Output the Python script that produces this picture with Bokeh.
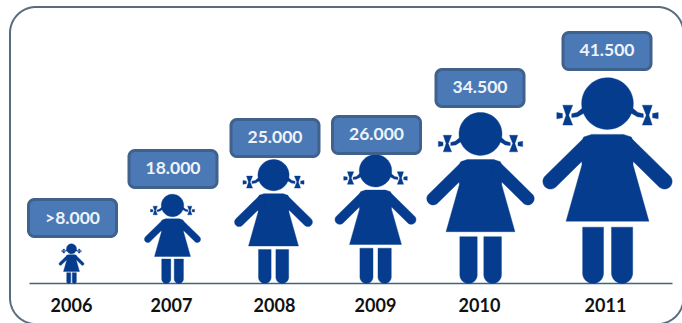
import numpy as np
from bokeh.embed import file_html
from bokeh.models import ColumnDataSource, Range1d
from bokeh.plotting import figure
from bokeh.resources import INLINE
from bokeh.core.properties import value

# Chart values
years = ["2006", "2007", "2008", "2009", "2010", "2011"]
counts = [8000, 18000, 25000, 26000, 34500, 41500]
count_labels = [">8.000", "18.000", "25.000", "26.000", "34.500", "41.500"]

# Page layout, in pixels from the top-left corner
WIDTH, HEIGHT = 682, 323
BASE_PX = 283
UNITS_PER_PX = 202
centres = [71, 172, 273, 375, 480, 607]
label_centres = [71, 171, 274, 375, 479, 605]
box_centres = [72, 172.5, 274.5, 376, 479.5, 606.5]
box_bottoms = [236, 187, 156, 153, 106, 69]
BOX_W, BOX_H = 88, 37

BLUE = "#053c8e"
BOX_FILL = "#4b79b6"
BOX_LINE = "#3f618c"
FRAME = "#5a6d7f"
RULE = "#3e6676"


def y_of(px):
    """Vertical pixel position expressed on the count axis."""
    return (BASE_PX - np.asarray(px, dtype=float)) * UNITS_PER_PX


def arc(cx, cy, r, a0, a1, n=24):
    t = np.radians(np.linspace(a0, a1, n))
    return cx + r * np.cos(t), cy + r * np.sin(t)


def rounded_rect(x0, y0, x1, y1, r):
    """Closed outline in pixel coordinates (y grows downward)."""
    pieces = [
        arc(x0 + r, y0 + r, r, 180, 270),
        arc(x1 - r, y0 + r, r, 270, 360),
        arc(x1 - r, y1 - r, r, 0, 90),
        arc(x0 + r, y1 - r, r, 90, 180),
    ]
    xs = np.concatenate([q[0] for q in pieces])
    ys = np.concatenate([q[1] for q in pieces])
    return np.append(xs, xs[0]), np.append(ys, ys[0])


# Figure outline: u across and v up, both as fractions of the figure's height.
GRID, CX, FOOT = 620.0, 560.0, 848.0


def unit(pts):
    pts = np.asarray(pts, dtype=float)
    return (pts[:, 0] - CX) / GRID, (FOOT - pts[:, 1]) / GRID


def capsule(p, q, r):
    p, q = np.asarray(p, float), np.asarray(q, float)
    ang = np.degrees(np.arctan2(q[1] - p[1], q[0] - p[0]))
    a = arc(q[0], q[1], r, ang - 90, ang + 90)
    b = arc(p[0], p[1], r, ang + 90, ang + 270)
    return np.column_stack([np.r_[a[0], b[0]], np.r_[a[1], b[1]]])


def leg(x0, x1):
    r = (x1 - x0) / 2
    xa, ya = arc((x0 + x1) / 2, FOOT - r, r, 0, 180)
    return np.column_stack([np.r_[x1, xa, x0], np.r_[678, ya, 678]])


def mirror(pts):
    pts = np.asarray(pts, dtype=float).copy()
    pts[:, 0] = 2 * CX - pts[:, 0]
    return pts


head_c = (560, 305, 78)
head = np.column_stack(arc(*head_c, 0, 360, 64))
body = [(512, 398), (608, 398), (632, 406), (640, 425), (637, 490), (685, 660),
        (435, 660), (483, 490), (480, 425), (488, 406)]
arm = capsule((497, 433), (388, 540), 23)
bow = [(425, 310), (455, 310), (443, 340), (455, 370), (425, 370), (435, 340)]
knot = [(407, 332), (424, 335), (424, 348), (407, 351)]
ribbon = [(485, 318), (468, 332), (452, 336), (452, 347), (470, 345), (492, 332)]

shapes = [head, np.array(body), arm, mirror(arm), leg(485, 548), leg(572, 636),
          np.array(bow), np.array(knot), np.array(ribbon),
          mirror(bow), mirror(knot), mirror(ribbon)]

girl_xs, girl_ys = [], []
for centre, count in zip(centres, counts):
    height_px = count / UNITS_PER_PX
    for shape in shapes:
        u, v = unit(shape)
        girl_xs.append(centre + u * height_px)
        girl_ys.append(v * count)

p = figure(
    width=WIDTH, height=HEIGHT, output_backend="svg", toolbar_location=None,
    x_range=Range1d(0, WIDTH),
    y_range=Range1d(float(y_of(HEIGHT)), float(y_of(0))),
    min_border=0, border_fill_color="white", background_fill_color="white",
    outline_line_color=None,
)
p.axis.visible = False
p.grid.visible = False

# Rounded panel, running just past the lower and right page edges
fx, fy = rounded_rect(9.5, 6.5, 683, 323.5, 26)
p.line(fx, y_of(fy), line_color=FRAME, line_width=2)

# Baseline
p.line([29, 672], [0, 0], line_color=RULE, line_width=1.6)

# Girls scaled by their count
p.patches(girl_xs, girl_ys, fill_color=BLUE, line_color=BLUE, line_width=0.4)

# Count badges
box_xs, box_ys = [], []
for cx, bottom in zip(box_centres, box_bottoms):
    bx, by = rounded_rect(cx - BOX_W / 2, bottom - BOX_H, cx + BOX_W / 2, bottom, 6)
    box_xs.append(bx)
    box_ys.append(y_of(by))
p.patches(box_xs, box_ys, fill_color=BOX_FILL, line_color=BOX_LINE, line_width=3)

badge_src = ColumnDataSource(dict(
    x=box_centres,
    y=[float(y_of(b - BOX_H / 2 - 1)) for b in box_bottoms],
    text=count_labels,
))
p.text("x", "y", text="text", source=badge_src, text_align="center",
       text_baseline="middle", text_color="#eef3fa", text_font=value("Lato"),
       text_font_style="bold", text_font_size="17.5px")

year_src = ColumnDataSource(dict(
    x=label_centres,
    y=[float(y_of(304.5))] * len(years),
    text=years,
))
p.text("x", "y", text="text", source=year_src, text_align="center",
       text_baseline="middle", text_color="#111111", text_font=value("Lato"),
       text_font_style="bold", text_font_size="18px")

open("out.html", "w").write(file_html(p, INLINE))
